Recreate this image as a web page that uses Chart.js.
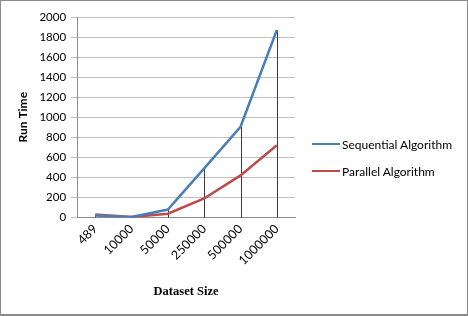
<!DOCTYPE html>
<html>
<head>
<meta charset="utf-8">
<script src="https://cdn.jsdelivr.net/npm/chart.js@4.4.0/dist/chart.umd.min.js"></script>
<style>
  html, body { margin: 0; padding: 0; background: #fff; }
  #wrap { position: relative; width: 468px; height: 316px; box-sizing: border-box; border: 1px solid #8a8a8a; border-bottom-width: 2px; }
  canvas { display: block; }
  #legend { position: absolute; left: 311px; top: 134px; font-family: Lato, sans-serif; font-size: 12px; color: #000; }
  #legend .item { display: flex; align-items: center; height: 18px; margin-bottom: 9px; white-space: nowrap; }
  #legend .swatch { width: 28px; height: 2.5px; margin-right: 2px; }
</style>
</head>
<body>
<div id="wrap"><canvas id="chart" width="466" height="313"></canvas><div id="legend"></div></div>
<script>
const categories = ['489', '10000', '50000', '250000', '500000', '1000000'];
const sequential = [20, 5, 80, 490, 905, 1870];
const parallel = [30, 5, 38, 190, 420, 720];
const yTicks = [0, 200, 400, 600, 800, 1000, 1200, 1400, 1600, 1800, 2000];

// vertical drop lines from the highest point down to the axis
const dropLines = {
    id: 'dropLines',
    beforeDatasetsDraw(chart) {
        const { ctx, scales: { x, y } } = chart;
        ctx.save();
        ctx.strokeStyle = '#3a3a3a';
        ctx.lineWidth = 1;
        categories.forEach((c, i) => {
            const top = Math.max(sequential[i], parallel[i]);
            const px = Math.round(x.getPixelForValue(i)) + 0.5;
            ctx.beginPath();
            ctx.moveTo(px, y.getPixelForValue(top));
            ctx.lineTo(px, y.getPixelForValue(0));
            ctx.stroke();
        });
        ctx.restore();
    }
};

const chart = new Chart(document.getElementById('chart'), {
    type: 'line',
    data: {
        labels: categories,
        datasets: [
            {
                label: 'Sequential Algorithm',
                data: sequential,
                borderColor: '#4a7ebb',
                backgroundColor: '#4a7ebb',
                borderWidth: 2.5,
                pointRadius: 0,
                tension: 0
            },
            {
                label: 'Parallel Algorithm',
                data: parallel,
                borderColor: '#be4b48',
                backgroundColor: '#be4b48',
                borderWidth: 2.5,
                pointRadius: 0,
                tension: 0
            }
        ]
    },
    options: {
        responsive: false,
        animation: false,
        devicePixelRatio: 1,
        layout: { padding: { top: 16, left: 11, right: 172, bottom: 11 } },
        plugins: {
            tooltip: { enabled: false },
            legend: { display: false }
        },
        scales: {
            x: {
                offset: true,
                grid: { display: false, drawTicks: false },
                border: { color: '#8c8c8c' },
                ticks: {
                    color: '#000',
                    autoSkip: false,
                    minRotation: 45,
                    maxRotation: 45,
                    padding: 4,
                    font: { family: 'Lato', size: 12.5 }
                },
                title: {
                    display: true,
                    text: 'Dataset Size',
                    color: '#000',
                    padding: { top: 12 },
                    font: { family: 'Liberation Serif', size: 12.5, weight: 'bold' }
                }
            },
            y: {
                min: 0,
                max: 2000,
                afterBuildTicks(axis) { axis.ticks = yTicks.map(v => ({ value: v })); },
                grid: { color: '#bfbfbf', tickLength: 6 },
                border: { color: '#8c8c8c' },
                ticks: {
                    color: '#000',
                    autoSkip: false,
                    padding: 5,
                    callback: v => String(v),
                    font: { family: 'Lato', size: 11.5 }
                },
                title: {
                    display: true,
                    text: 'Run Time',
                    color: '#000',
                    padding: { bottom: 4 },
                    font: { family: 'Lato', size: 12, weight: 'bold' }
                }
            }
        }
    },
    plugins: [dropLines]
});

// legend built from the datasets
const legend = document.getElementById('legend');
chart.data.datasets.forEach(ds => {
    const item = document.createElement('div');
    item.className = 'item';
    const sw = document.createElement('span');
    sw.className = 'swatch';
    sw.style.background = ds.borderColor;
    const label = document.createElement('span');
    label.textContent = ds.label;
    item.appendChild(sw);
    item.appendChild(label);
    legend.appendChild(item);
});
</script>
</body>
</html>
